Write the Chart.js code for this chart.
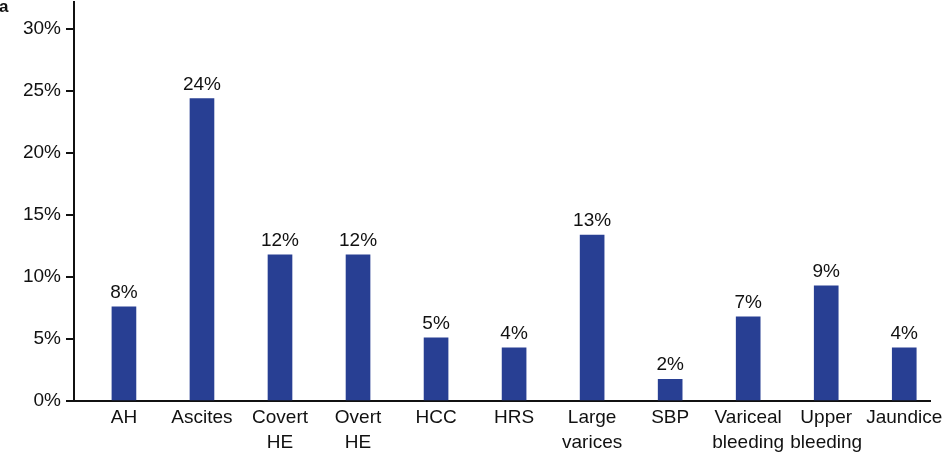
<!DOCTYPE html>
<html>
<head>
    <meta charset="UTF-8">
    <title>Complications</title>
    <script src="https://cdn.jsdelivr.net/npm/chart.js"></script>
    <style>
        body { margin: 0; background: #fff; }
        #wrap { position: relative; width: 944px; height: 454px; }
        #panel { position: absolute; left: -1px; top: -3px; font: bold 17px "Liberation Sans", Arial, sans-serif; color: #111; }
    </style>
</head>
<body>
    <div id="wrap">
        <canvas id="myChart"></canvas>
        <div id="panel">a</div>
    </div>
    <script>
        // categories and values (percent)
        const categories = [
            ['AH'], ['Ascites'], ['Covert', 'HE'], ['Overt', 'HE'], ['HCC'], ['HRS'],
            ['Large', 'varices'], ['SBP'], ['Variceal', 'bleeding'], ['Upper', 'bleeding'], ['Jaundice']
        ];
        const values = [7.6, 24.4, 11.8, 11.8, 5.1, 4.3, 13.4, 1.75, 6.8, 9.3, 4.3];
        const yTicks = [0, 5, 10, 15, 20, 25, 30];

        const font = { family: '"Liberation Sans", Arial, sans-serif', size: 19, lineHeight: 1.32 };

        // value labels above bars
        const barLabels = {
            id: 'barLabels',
            afterDatasetsDraw(chart) {
                const ctx = chart.ctx;
                const meta = chart.getDatasetMeta(0);
                ctx.save();
                ctx.font = font.size + 'px ' + font.family;
                ctx.fillStyle = '#111';
                ctx.textAlign = 'center';
                ctx.textBaseline = 'alphabetic';
                meta.data.forEach((bar, i) => {
                    ctx.fillText(Math.round(values[i]) + '%', bar.x, bar.y - 9);
                });
                ctx.restore();
            }
        };

        const ctx = document.getElementById('myChart').getContext('2d');
        const myChart = new Chart(ctx, {
            type: 'bar',
            data: {
                datasets: [{
                    data: values.map((v, i) => ({ x: i, y: v })),
                    backgroundColor: '#283f93',
                    barThickness: 24
                }]
            },
            options: {
                responsive: true,
                maintainAspectRatio: false,
                animation: false,
                layout: { padding: { top: 2, right: 14, left: 0, bottom: 0 } },
                plugins: { legend: { display: false }, tooltip: { enabled: false } },
                scales: {
                    x: {
                        type: 'linear',
                        offset: false,
                        min: -0.64,
                        max: 10.33,
                        afterBuildTicks: scale => { scale.ticks = categories.map((_, i) => ({ value: i })); },
                        afterFit: scale => { scale.height = 53; scale.paddingLeft = 0; scale.paddingRight = 0; },
                        grid: { display: false },
                        border: { display: true, color: '#111', width: 2 },
                        ticks: {
                            color: '#111',
                            font: font,
                            padding: -4,
                            maxRotation: 0,
                            autoSkip: false,
                            callback: v => categories[v]
                        }
                    },
                    y: {
                        min: 0,
                        max: 32.2,
                        afterBuildTicks: scale => { scale.ticks = yTicks.map(v => ({ value: v })); },
                        afterFit: scale => { scale.width = 74; scale.paddingTop = 0; scale.paddingBottom = 0; },
                        grid: { drawOnChartArea: false, drawTicks: true, tickLength: 8, color: '#111', lineWidth: 2 },
                        border: { display: true, color: '#111', width: 2 },
                        ticks: {
                            color: '#111',
                            font: font,
                            padding: 5,
                            callback: v => v + '%'
                        }
                    }
                }
            },
            plugins: [barLabels]
        });
    </script>
</body>
</html>
